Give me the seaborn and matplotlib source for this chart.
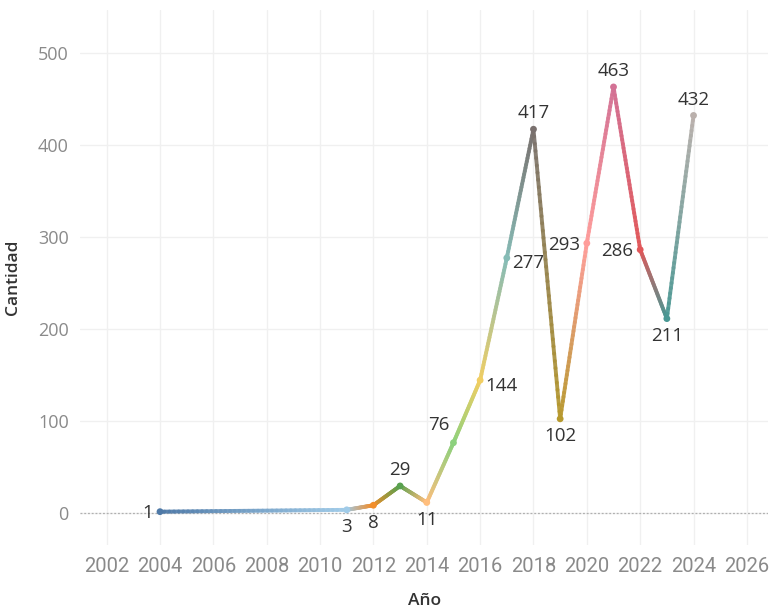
import numpy as np
import pandas as pd
import matplotlib
matplotlib.use("Agg")
import matplotlib.pyplot as plt
import seaborn as sns
from matplotlib.collections import LineCollection
from matplotlib.colors import to_rgb

years = [2004, 2011, 2012, 2013, 2014, 2015, 2016, 2017, 2018, 2019, 2020, 2021, 2022, 2023, 2024]
counts = [1, 3, 8, 29, 11, 76, 144, 277, 417, 102, 293, 463, 286, 211, 432]
colors = ["#4E79A7", "#A0CBE8", "#F28E2B", "#59A14F", "#FFBE7D", "#8CD17D", "#F1CE63",
          "#86BCB6", "#79706E", "#B6992D", "#FF9D9A", "#D37295", "#E15759", "#499894", "#BAB0AC"]
label_pos = ["left", "below", "below", "above", "below", "upleft", "right", "right",
             "above", "below", "left", "above", "left", "below", "above"]
xticks = list(range(2002, 2027, 2))
yticks = [0, 100, 200, 300, 400, 500]

df = pd.DataFrame({"Año": years, "Cantidad": counts, "Año_str": [str(y) for y in years]})

sns.set_theme(style="white")
plt.rcParams["font.family"] = ["Open Sans", "DejaVu Sans"]

fig = plt.figure(figsize=(7.69, 6.08), dpi=100)
ax = fig.add_axes([0.104, 0.104, 0.895, 0.88])

segs, cols = [], []
n = 40
for i in range(len(years) - 1):
    c0, c1 = np.array(to_rgb(colors[i])), np.array(to_rgb(colors[i + 1]))
    xs = np.linspace(years[i], years[i + 1], n + 1)
    ys = np.linspace(counts[i], counts[i + 1], n + 1)
    for k in range(n):
        t = (k + 0.5) / n
        segs.append([(xs[k], ys[k]), (xs[k + 1], ys[k + 1])])
        cols.append(tuple(c0 * (1 - t) + c1 * t))
lc = LineCollection(segs, colors=cols, linewidths=2.8, capstyle="round", alpha=0.92, zorder=3)
ax.add_collection(lc)

sns.scatterplot(data=df, x="Año", y="Cantidad", hue="Año_str", palette=colors,
                s=24, edgecolor="none", legend=False, ax=ax, zorder=4)

offsets = {"left": (-5, -1, "right", "center"), "right": (4, -4, "left", "center"),
           "above": (0, 5, "center", "bottom"), "below": (0, -6, "center", "top"),
           "upleft": (-3, 6, "right", "bottom")}
for x, y, p in zip(years, counts, label_pos):
    dx, dy, ha, va = offsets[p]
    ax.annotate(str(y), (x, y), xytext=(dx, dy), textcoords="offset points",
                ha=ha, va=va, fontsize=13.5, color="#333333", zorder=5)

ax.axhline(0, color="#b0b0b0", lw=0.9, ls=(0, (1.5, 1.5)), zorder=1)
ax.set_xlim(2001.0, 2026.8)
ax.set_ylim(-35, 547)
ax.set_xticks(xticks)
ax.set_yticks(yticks)
ax.tick_params(axis="both", length=0, labelcolor="#8a8a8a")
ax.tick_params(axis="y", labelsize=13, pad=8)
ax.tick_params(axis="x", pad=9)
for lab in ax.get_xticklabels():
    lab.set_fontfamily(["Liberation Sans Narrow", "Roboto", "DejaVu Sans"])
    lab.set_fontsize(14.5)
ax.grid(True, color="#f0f0f0", lw=1)
for s in ax.spines.values():
    s.set_visible(False)
ax.set_xlabel("Año", fontsize=12.5, color="#333333", fontweight="semibold", labelpad=12)
ax.set_ylabel("Cantidad", fontsize=12.5, color="#333333", fontweight="semibold", labelpad=12)

fig.savefig("out.png", dpi=100)
